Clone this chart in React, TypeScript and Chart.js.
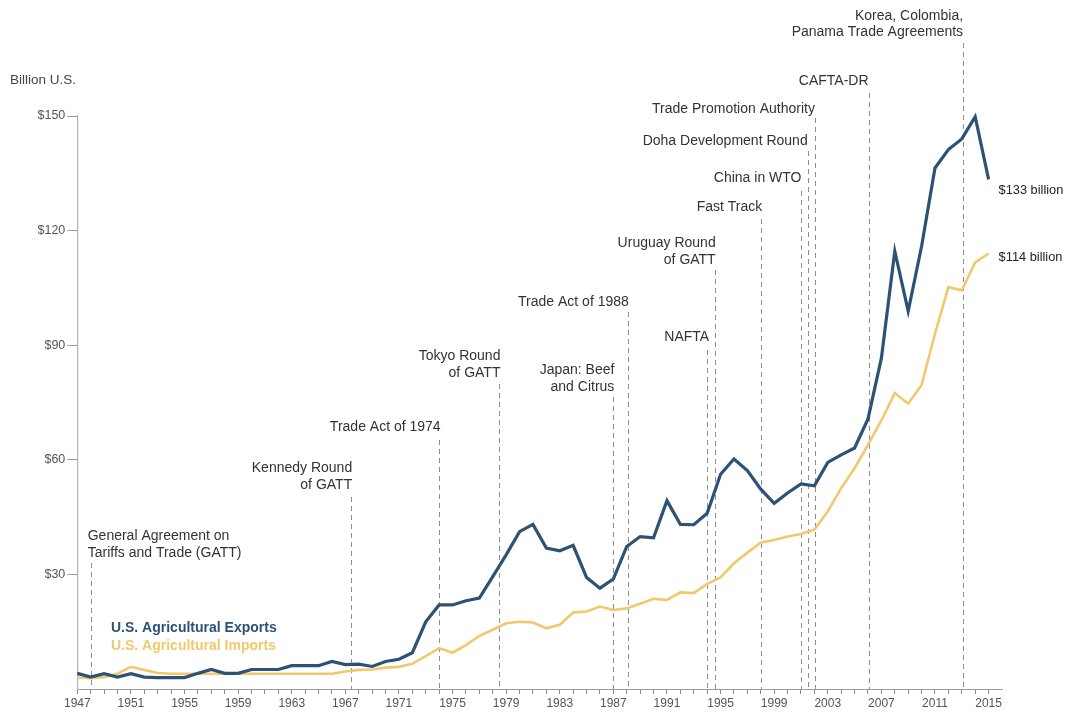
import React, { useEffect, useRef } from "react";
import { Chart, registerables } from "chart.js";

Chart.register(...registerables);

const years = [
  1947, 1948, 1949, 1950, 1951, 1952, 1953, 1954, 1955, 1956, 1957, 1958, 1959, 1960,
  1961, 1962, 1963, 1964, 1965, 1966, 1967, 1968, 1969, 1970, 1971, 1972, 1973, 1974,
  1975, 1976, 1977, 1978, 1979, 1980, 1981, 1982, 1983, 1984, 1985, 1986, 1987, 1988,
  1989, 1990, 1991, 1992, 1993, 1994, 1995, 1996, 1997, 1998, 1999, 2000, 2001, 2002,
  2003, 2004, 2005, 2006, 2007, 2008, 2009, 2010, 2011, 2012, 2013, 2014, 2015,
];

const exportsBn = [
  4.1, 3.1, 4.0, 3.1, 4.0, 3.1, 3.0, 3.0, 3.0, 4.1, 5.1, 4.1, 4.1, 5.1,
  5.1, 5.1, 6.1, 6.1, 6.1, 7.2, 6.4, 6.5, 5.9, 7.2, 7.8, 9.5, 17.6, 22.0,
  22.0, 23.1, 23.8, 29.4, 35.1, 41.2, 43.1, 36.9, 36.2, 37.6, 29.2, 26.4, 28.8, 37.3,
  39.9, 39.6, 49.3, 43.1, 43.0, 46.0, 56.2, 60.2, 57.2, 52.3, 48.6, 51.3, 53.7, 53.2,
  59.3, 61.3, 63.1, 70.7, 86.6, 114.6, 98.9, 115.9, 136.4, 141.2, 144.0, 149.8, 133.4,
];

const importsBn = [
  3.0, 2.8, 3.1, 4.0, 5.8, 5.0, 4.2, 4.0, 4.0, 4.0, 4.0, 4.0, 4.0, 4.0,
  4.0, 4.0, 4.0, 4.0, 4.0, 4.0, 4.6, 5.0, 5.1, 5.6, 5.8, 6.6, 8.6, 10.7,
  9.5, 11.5, 13.9, 15.5, 17.2, 17.6, 17.4, 15.9, 16.8, 20.0, 20.3, 21.6, 20.7, 21.1,
  22.3, 23.6, 23.3, 25.3, 25.1, 27.5, 29.2, 32.9, 35.7, 38.3, 39.0, 39.9, 40.6, 41.7,
  46.5, 52.6, 57.8, 63.9, 70.3, 77.5, 74.7, 79.6, 93.0, 105.2, 104.4, 111.7, 114.0,
];

const xLabelYears = [1947, 1951, 1955, 1959, 1963, 1967, 1971, 1975, 1979, 1983, 1987, 1991, 1995, 1999, 2003, 2007, 2011, 2015];
const yTickValues = [30, 60, 90, 120, 150];

const eventYears = [1948.0, 1967.4, 1974.0, 1978.5, 1987.0, 1988.08, 1994.0, 1994.56, 1998.0, 2001.0, 2001.5, 2002.04, 2006.04, 2013.06];
const eventLabels: string[][] = [
  ["General Agreement on", "Tariffs and Trade (GATT)"],
  ["Kennedy Round", "of GATT"],
  ["Trade Act of 1974"],
  ["Tokyo Round", "of GATT"],
  ["Japan: Beef", "and Citrus"],
  ["Trade Act of 1988"],
  ["NAFTA"],
  ["Uruguay Round", "of GATT"],
  ["Fast Track"],
  ["China in WTO"],
  ["Doha Development Round"],
  ["Trade Promotion Authority"],
  ["CAFTA-DR"],
  ["Korea, Colombia,", "Panama Trade Agreements"],
];

const endLabels = ["$133 billion", "$114 billion"];
const seriesNames = ["U.S. Agricultural Exports", "U.S. Agricultural Imports"];

// layout of annotation texts (pixels) — styling only
const eventLayout = [
  { align: "left", dx: -3, textY: 536, lineTop: 563 },
  { align: "right", dx: 1.5, textY: 468, lineTop: 497 },
  { align: "right", dx: 1.5, textY: 427, lineTop: 440 },
  { align: "right", dx: 1, textY: 356, lineTop: 384 },
  { align: "right", dx: 1, textY: 370, lineTop: 397 },
  { align: "right", dx: 1, textY: 302.5, lineTop: 312 },
  { align: "right", dx: 2, textY: 337.5, lineTop: 350 },
  { align: "right", dx: 1, textY: 243, lineTop: 270 },
  { align: "right", dx: 1.5, textY: 207, lineTop: 219 },
  { align: "right", dx: 0.5, textY: 178.3, lineTop: 191 },
  { align: "right", dx: 0, textY: 141.5, lineTop: 151 },
  { align: "right", dx: 0, textY: 109, lineTop: 118 },
  { align: "right", dx: 0, textY: 81, lineTop: 93 },
  { align: "right", dx: 0.5, textY: 15.7, lineTop: 43 },
];

const BLUE = "#2d5273";
const YELLOW = "#f1c96c";
const TEXT_FONT = '14px "Liberation Sans", Arial, sans-serif';

const annotationPlugin = {
  id: "tradeEvents",
  beforeDatasetsDraw(chart: any) {
    const { ctx, scales, chartArea } = chart;
    const x = scales.x;
    ctx.save();
    ctx.strokeStyle = "#8e8e8e";
    ctx.lineWidth = 1;
    ctx.setLineDash([5, 4]);
    eventYears.forEach((yr, i) => {
      const px = Math.round(x.getPixelForValue(yr)) + 0.5;
      ctx.beginPath();
      ctx.moveTo(px, eventLayout[i].lineTop);
      ctx.lineTo(px, chartArea.bottom);
      ctx.stroke();
    });
    ctx.setLineDash([]);
    ctx.font = TEXT_FONT;
    ctx.fillStyle = "#333333";
    ctx.textBaseline = "middle";
    eventYears.forEach((yr, i) => {
      const lay = eventLayout[i];
      const px = x.getPixelForValue(yr) + lay.dx;
      ctx.textAlign = lay.align as CanvasTextAlign;
      eventLabels[i].forEach((line, j) => {
        ctx.fillText(line, px, lay.textY + j * 16.8);
      });
    });
    ctx.restore();
  },
  afterDatasetsDraw(chart: any) {
    const { ctx, scales } = chart;
    const x = scales.x;
    const y = scales.y;
    ctx.save();
    ctx.textBaseline = "middle";
    // axis title
    ctx.font = '13.5px "Liberation Sans", Arial, sans-serif';
    ctx.fillStyle = "#444";
    ctx.textAlign = "left";
    ctx.fillText("Billion U.S.", 10, 80);
    // end labels
    ctx.font = '12.8px "Liberation Sans", Arial, sans-serif';
    ctx.fillStyle = "#222";
    const lastIdx = years.length - 1;
    const lx = x.getPixelForValue(years[lastIdx]) + 10;
    ctx.fillText(endLabels[0], lx, y.getPixelForValue(exportsBn[lastIdx]) + 11);
    ctx.fillText(endLabels[1], lx, y.getPixelForValue(importsBn[lastIdx]) + 4);
    // series legend
    ctx.font = 'bold 14px "Liberation Sans", Arial, sans-serif';
    ctx.fillStyle = BLUE;
    ctx.fillText(seriesNames[0], 111, 628);
    ctx.fillStyle = YELLOW;
    ctx.fillText(seriesNames[1], 111, 646);
    ctx.restore();
  },
};

export default function App() {
  const ref = useRef<HTMLCanvasElement>(null);

  useEffect(() => {
    if (!ref.current) return;
    const chart = new Chart(ref.current, {
      type: "line",
      data: {
        datasets: [
          {
            label: seriesNames[0],
            data: years.map((yr, i) => ({ x: yr, y: exportsBn[i] })),
            borderColor: BLUE,
            borderWidth: 3.2,
            pointRadius: 0,
            tension: 0,
            fill: false,
            clip: false as any,
          },
          {
            label: seriesNames[1],
            data: years.map((yr, i) => ({ x: yr, y: importsBn[i] })),
            borderColor: YELLOW,
            borderWidth: 2.6,
            pointRadius: 0,
            tension: 0,
            fill: false,
            clip: false as any,
          },
        ],
      },
      options: {
        animation: false,
        responsive: false,
        devicePixelRatio: 1,
        layout: { padding: { top: 116, right: 63, bottom: 0, left: 0 } },
        plugins: {
          legend: { display: false },
          tooltip: { enabled: false },
          title: { display: false },
        },
        scales: {
          x: {
            type: "linear",
            min: 1947,
            max: 2016,
            afterFit: (scale: any) => {
              scale.height = 28;
            },
            border: { display: true, color: "#9a9a9a", width: 1 },
            grid: {
              drawOnChartArea: false,
              drawTicks: true,
              tickLength: 5,
              tickColor: (c: any) => (c.tick && c.tick.value === 2016 ? "rgba(0,0,0,0)" : "#8a8a8a"),
            },
            ticks: {
              stepSize: 1,
              autoSkip: false,
              maxRotation: 0,
              minRotation: 0,
              padding: 2,
              color: "#555",
              font: { family: '"Liberation Sans", Arial, sans-serif', size: 12 },
              callback: (v: any) => (xLabelYears.includes(Number(v)) ? String(v) : ""),
            },
          },
          y: {
            type: "linear",
            min: 0,
            max: 150,
            afterFit: (scale: any) => {
              scale.width = 77.3;
            },
            border: { display: true, color: "#b5b5b5", width: 1.2 },
            grid: {
              drawOnChartArea: false,
              drawTicks: true,
              tickLength: 10,
              tickColor: (c: any) => (c.tick && yTickValues.includes(c.tick.value) ? "#9a9a9a" : "rgba(0,0,0,0)"),
            },
            ticks: {
              stepSize: 30,
              padding: 2,
              color: "#555",
              font: { family: '"Liberation Sans", Arial, sans-serif', size: 12.5 },
              callback: (v: any) => (yTickValues.includes(Number(v)) ? "$" + v : ""),
            },
          },
        },
      },
      plugins: [annotationPlugin],
    } as any);
    return () => chart.destroy();
  }, []);

  return (
    <div style={{ position: "absolute", left: 0, top: 0, width: 1065, height: 717, background: "#fff" }}>
      <canvas ref={ref} width={1065} height={717} style={{ display: "block" }} />
    </div>
  );
}
